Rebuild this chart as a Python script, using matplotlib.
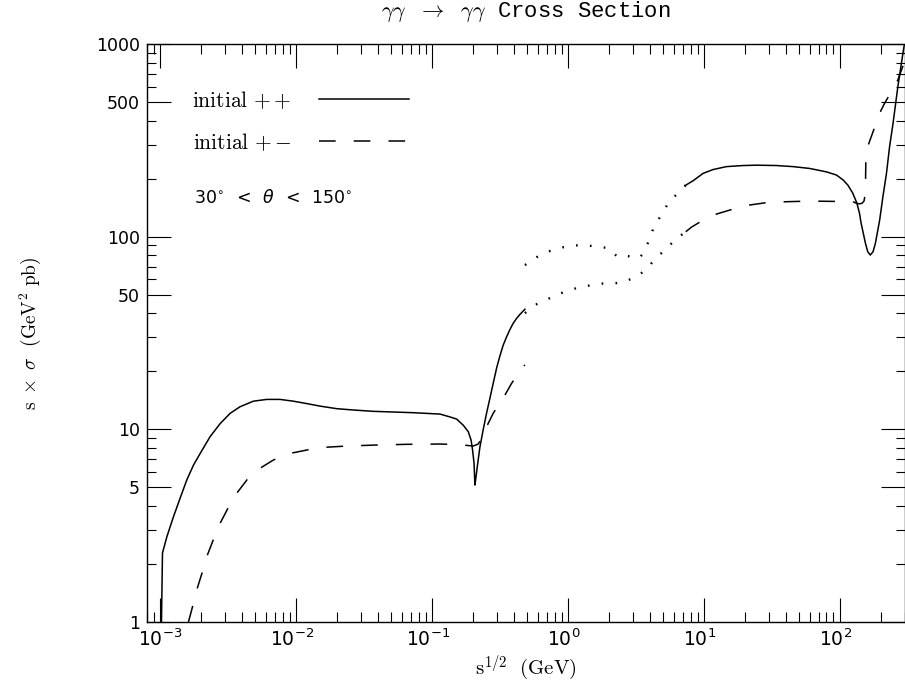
import numpy as np
import matplotlib
matplotlib.use('Agg')
import matplotlib.pyplot as plt
from matplotlib import ticker
from matplotlib.font_manager import FontProperties
from matplotlib.transforms import ScaledTranslation

plt.rcParams['lines.scale_dashes'] = False
plt.rcParams['mathtext.fontset'] = 'dejavusans'
plt.rcParams['font.family'] = ['DejaVu Sans']

# ---------------- data ----------------
# initial ++ : low-energy part (solid)
pp_low_x = [1.02e-3, 1.04e-3, 1.12e-3, 1.253e-3, 1.40e-3, 1.57e-3, 1.76e-3, 1.97e-3,
            2.33e-3, 2.76e-3, 3.27e-3, 3.87e-3, 4.85e-3, 6.09e-3, 7.62e-3, 9.55e-3,
            0.0120, 0.0150, 0.0199, 0.0264, 0.0370, 0.0519, 0.0729, 0.0914, 0.1146,
            0.1356, 0.152, 0.170, 0.185, 0.194, 0.199, 0.204, 0.207, 0.211, 0.2155,
            0.2255, 0.238, 0.252, 0.267, 0.282, 0.300, 0.316, 0.334, 0.354, 0.375,
            0.396, 0.420, 0.444, 0.483]
pp_low_y = [0.9, 2.28, 2.77, 3.52, 4.38, 5.46, 6.53, 7.50,
            9.16, 10.7, 12.1, 13.1, 14.0, 14.3, 14.3, 14.0,
            13.6, 13.2, 12.8, 12.6, 12.4, 12.3, 12.2, 12.1, 12.0,
            11.6, 11.3, 10.5, 9.72, 8.80, 7.81, 6.66, 5.14, 5.68, 6.40,
            8.12, 9.92, 12.1, 14.5, 17.3, 21.0, 24.0, 27.3, 30.2, 33.0,
            35.5, 37.7, 39.5, 42.0]
# initial ++ : hadronic region (dotted)
pp_mid_x = [0.483, 0.592, 0.738, 0.935, 1.205, 1.53, 1.97, 2.33, 2.76, 3.33, 3.56,
            3.94, 4.29, 4.91, 5.53, 6.55, 7.37]
pp_mid_y = [71.2, 78.4, 84.2, 88.3, 90.4, 89.4, 87.3, 78.4, 79.3, 77.4, 81.2,
            94.9, 112, 131, 151, 170, 185]
# initial ++ : high-energy part (solid)
pp_high_x = [7.37, 8.34, 9.88, 11.7, 14.7, 19.5, 24.4, 34.2, 45.4, 60.1, 79.8, 94.6,
             106, 115, 125, 134, 140, 144, 155, 161, 168, 176, 183, 197, 208, 221,
             233, 247, 268, 292, 300]
pp_high_y = [185, 195, 213, 223, 231, 234, 235, 234, 231, 226, 217, 209,
             197, 185, 168, 149, 132, 117, 92, 83.5, 80.3, 83.5, 92, 122, 161, 213,
             293, 387, 600, 893, 1007]

# initial +- : low-energy part (dashed)
pm_low_x = [1.614e-3, 1.73e-3, 1.86e-3, 2.03e-3, 2.20e-3, 2.47e-3, 2.76e-3, 3.18e-3,
            3.66e-3, 4.38e-3, 5.43e-3, 6.81e-3, 9.03e-3, 0.0120, 0.0159, 0.0236,
            0.0370, 0.0651, 0.1146, 0.161, 0.201, 0.219, 0.232, 0.2455, 0.282,
            0.334, 0.385, 0.467, 0.483]
pm_low_y = [1.0, 1.20, 1.47, 1.79, 2.18, 2.69, 3.25, 3.94,
            4.66, 5.50, 6.28, 6.93, 7.50, 7.81, 8.06, 8.19,
            8.28, 8.36, 8.39, 8.32, 8.19, 8.39, 8.98, 9.92, 12.1,
            14.5, 17.3, 21.1, 21.6]
# initial +- : hadronic region (dotted)
pm_mid_x = [0.483, 0.592, 0.738, 0.935, 1.16, 1.50, 1.90, 2.41, 3.06, 3.75, 4.37,
            5.26, 6.23, 7.37]
pm_mid_y = [40.1, 44.7, 48.0, 51.6, 54.1, 56.1, 57.4, 57.4, 61.0, 67.1, 76.5,
            86.2, 97.2, 106]
# initial +- : high-energy part (dashed)
pm_high_x = [7.37, 8.11, 9.35, 10.8, 12.4, 16.4, 21.8, 30.5, 60.1, 125, 133, 140,
             146, 151, 154, 155, 155.5, 156, 164, 176, 189, 202, 214, 240, 268, 300]
pm_high_y = [106, 112, 119, 125, 131, 139, 146, 151, 153, 152, 149, 148,
             149, 153, 165, 190, 225, 260, 305, 350, 403, 454, 492, 565, 650, 809]

y_major = [1, 5, 10, 50, 100, 500, 1000]
y_major_labels = ['1', '5', '10', '50', '100', '500', '1000']

title_text = r'$\gamma\gamma$ $\rightarrow$ $\gamma\gamma$ Cross Section'
label_pp = r'$\mathrm{initial}\ {+}\,{+}$'
label_pm = r'$\mathrm{initial}\ {+}\,{-}$'
angle_text = r'$30^{\circ}\ \,<\ \,\theta\ \,<\ \,150^{\circ}$'
xlabel_text = r'$\mathrm{s}^{1/2}\ \ \mathrm{(GeV)}$'
ylabel_text = r'$\mathrm{s}\ \times\ \sigma\ \ \mathrm{(GeV}^{2}\ \mathrm{pb)}$'

# ---------------- figure ----------------
W, H = 905, 683
fig = plt.figure(figsize=(W / 100, H / 100), dpi=100)
ax = fig.add_axes([147 / W, (H - 622) / H, (904.5 - 147) / W, (622 - 44) / H])
ax.set_xscale('log')
ax.set_yscale('log')
ax.set_xlim(8e-4, 300)
ax.set_ylim(1, 1000)

lw = 1.1
dash = (0, (12, 13))
dot = (0, (1.2, 8.8))
l_pp, = ax.plot(pp_low_x, pp_low_y, color='black', lw=lw, label=label_pp)
ax.plot(pp_mid_x, pp_mid_y, color='black', lw=1.7, ls=dot)
ax.plot(pp_high_x, pp_high_y, color='black', lw=lw)
l_pm, = ax.plot(pm_low_x, pm_low_y, color='black', lw=lw, ls=dash, label=label_pm)
ax.plot(pm_mid_x, pm_mid_y, color='black', lw=1.7, ls=dot)
ax.plot(pm_high_x, pm_high_y, color='black', lw=lw, ls=dash)

# ticks
ax.xaxis.set_major_locator(ticker.LogLocator(base=10, numticks=20))
ax.xaxis.set_minor_locator(ticker.LogLocator(base=10, subs=np.arange(2, 10), numticks=20))
ax.xaxis.set_major_formatter(ticker.LogFormatterSciNotation())
ax.xaxis.set_minor_formatter(ticker.NullFormatter())
ax.yaxis.set_major_locator(ticker.FixedLocator(y_major))
ax.yaxis.set_major_formatter(ticker.FixedFormatter(y_major_labels))
y_minor = [m * 10 ** e for e in range(0, 3) for m in (2, 3, 4, 6, 7, 8, 9)]
ax.yaxis.set_minor_locator(ticker.FixedLocator(y_minor))
ax.yaxis.set_minor_formatter(ticker.NullFormatter())

ax.tick_params(which='both', direction='in', top=True, right=True, width=0.8, color='black')
ax.tick_params(which='major', length=17.5)
ax.tick_params(axis='x', which='minor', length=7.5)
ax.tick_params(axis='y', which='minor', length=6.5)
ax.tick_params(axis='x', which='major', labelsize=13.5, pad=5)
ax.tick_params(axis='y', which='major', labelsize=12.5, pad=5)
for sp in ax.spines.values():
    sp.set_linewidth(1.0)

fig.canvas.draw()
shift = ScaledTranslation(-4 / 100, 0, fig.dpi_scale_trans)
for lab in ax.get_xticklabels():
    if lab.get_position()[0] > 2e-3:
        lab.set_transform(lab.get_transform() + shift)

# labels
fig.text(526 / W, 1 - 12 / H, title_text, ha='center', va='center',
         family='Liberation Mono', math_fontfamily='cm', size=16)
ax.set_xlabel(xlabel_text, math_fontfamily='cm', size=15)
ax.xaxis.set_label_coords(0.5, (H - 668 - (H - 622)) / 578)
ax.xaxis.label.set_va('center')
ax.set_ylabel(ylabel_text, math_fontfamily='cm', size=14)
ax.yaxis.set_label_coords((30 - 147) / 757.5, 0.5)
ax.yaxis.label.set_va('center')

leg = ax.legend(handles=[l_pp, l_pm], loc='upper left',
                bbox_to_anchor=((192 - 147) / 757.5, (622 - 89) / 578),
                frameon=False, markerfirst=False, handlelength=4.2,
                handletextpad=1.3, labelspacing=0.95, borderpad=0, borderaxespad=0,
                prop=FontProperties(size=15.5, math_fontfamily='cm'))

ax.text((194 - 147) / 757.5, (622 - 198) / 578, angle_text, transform=ax.transAxes,
        ha='left', va='center', size=12.5)

fig.savefig('out.png', dpi=100)
